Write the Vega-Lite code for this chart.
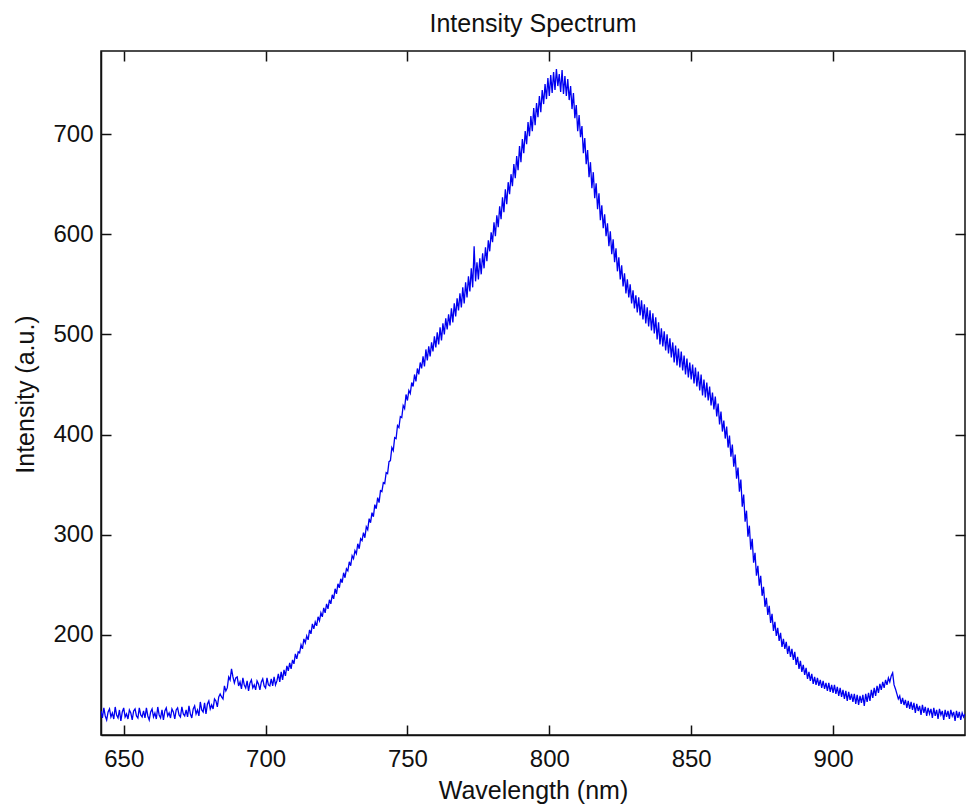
{
  "$schema": "https://vega.github.io/schema/vega-lite/v6.json",
  "width": 864,
  "height": 684,
  "autosize": {"type": "none"},
  "padding": {"left": 101, "top": 51, "right": 1, "bottom": 71},
  "background": "white",
  "title": {"text": "Intensity Spectrum", "font": "Liberation Sans", "fontSize": 25, "fontWeight": "normal", "color": "#111", "baseline": "bottom", "offset": 14, "dy": 26, "anchor": "middle"},
  "config": {
    "view": {"stroke": "#111", "strokeWidth": 1.5},
    "axis": {"labelFont": "Liberation Sans", "labelFontSize": 24, "labelColor": "#111", "titleFont": "Liberation Sans", "titleFontSize": 25, "titleFontWeight": "normal", "titleColor": "#111", "domainColor": "#111", "domainWidth": 1.5, "tickColor": "#111", "tickWidth": 1.5, "tickSize": -10, "grid": false}
  },
  "data": {"values": [
{"w":642,"i":124},{"w":642.5,"i":117},{"w":643,"i":127},{"w":643.5,"i":119},{"w":644,"i":115},{"w":644.5,"i":123},{"w":645,"i":126},{"w":645.5,"i":118},{"w":646,"i":122},{"w":646.5,"i":116},{"w":647,"i":128},{"w":647.5,"i":120},{"w":648,"i":117},{"w":648.5,"i":125},{"w":649,"i":114},{"w":649.5,"i":123},{"w":650,"i":127},{"w":650.5,"i":118},{"w":651,"i":121},{"w":651.5,"i":116},{"w":652,"i":125},{"w":652.5,"i":122},{"w":653,"i":115},{"w":653.5,"i":124},{"w":654,"i":126},{"w":654.5,"i":119},{"w":655,"i":117},{"w":655.5,"i":127},{"w":656,"i":120},{"w":656.5,"i":118},
{"w":657,"i":124},{"w":657.5,"i":117},{"w":658,"i":127},{"w":658.5,"i":119},{"w":659,"i":115},{"w":659.5,"i":123},{"w":660,"i":126},{"w":660.5,"i":118},{"w":661,"i":122},{"w":661.5,"i":116},{"w":662,"i":128},{"w":662.5,"i":120},{"w":663,"i":117},{"w":663.5,"i":125},{"w":664,"i":115},{"w":664.5,"i":124},{"w":665,"i":127},{"w":665.5,"i":119},{"w":666,"i":122},{"w":666.5,"i":117},{"w":667,"i":126},{"w":667.5,"i":123},{"w":668,"i":116},{"w":668.5,"i":125},{"w":669,"i":127},{"w":669.5,"i":120},{"w":670,"i":118},{"w":670.5,"i":128},{"w":671,"i":121},{"w":671.5,"i":119},
{"w":672,"i":125},{"w":672.5,"i":118},{"w":673,"i":129},{"w":673.5,"i":121},{"w":674,"i":117},{"w":674.5,"i":126},{"w":675,"i":129},{"w":675.5,"i":121},{"w":676,"i":125},{"w":676.5,"i":119},{"w":677,"i":133},{"w":677.5,"i":125},{"w":678,"i":123},{"w":678.5,"i":132},{"w":679,"i":121},{"w":679.5,"i":131},{"w":680,"i":134},{"w":680.5,"i":126},{"w":681,"i":130},{"w":681.5,"i":126},{"w":682,"i":136},{"w":682.5,"i":134},{"w":683,"i":128},{"w":683.5,"i":138},{"w":684,"i":141},{"w":684.5,"i":138},{"w":685,"i":136},{"w":685.5,"i":149},{"w":686,"i":144},{"w":686.5,"i":147},
{"w":687,"i":158},{"w":687.5,"i":155},{"w":688,"i":166},{"w":688.5,"i":158},{"w":689,"i":152},{"w":689.5,"i":157},{"w":690,"i":158},{"w":690.5,"i":149},{"w":691,"i":153},{"w":691.5,"i":146},{"w":692,"i":157},{"w":692.5,"i":150},{"w":693,"i":147},{"w":693.5,"i":154},{"w":694,"i":144},{"w":694.5,"i":152},{"w":695,"i":155},{"w":695.5,"i":147},{"w":696,"i":150},{"w":696.5,"i":145},{"w":697,"i":154},{"w":697.5,"i":151},{"w":698,"i":145},{"w":698.5,"i":153},{"w":699,"i":156},{"w":699.5,"i":149},{"w":700,"i":147},{"w":700.5,"i":157},{"w":701,"i":150},{"w":701.5,"i":149},
{"w":702,"i":156},{"w":702.5,"i":149},{"w":703,"i":158},{"w":703.5,"i":150},{"w":704,"i":154},{"w":704.5,"i":161},{"w":705,"i":153},{"w":705.5,"i":163},{"w":706,"i":155},{"w":706.5,"i":165},{"w":707,"i":159},{"w":707.5,"i":169},{"w":708,"i":164},{"w":708.5,"i":172},{"w":709,"i":166},{"w":709.5,"i":175},{"w":710,"i":171},{"w":710.5,"i":181},{"w":711,"i":176},{"w":711.5,"i":183},{"w":712,"i":182},{"w":712.5,"i":190},{"w":713,"i":186},{"w":713.5,"i":196},{"w":714,"i":192},{"w":714.5,"i":199},{"w":715,"i":195},{"w":715.5,"i":205},{"w":716,"i":201},{"w":716.5,"i":211},
{"w":717,"i":206},{"w":717.5,"i":213},{"w":718,"i":209},{"w":718.5,"i":218},{"w":719,"i":214},{"w":719.5,"i":222},{"w":720,"i":218},{"w":720.5,"i":227},{"w":721,"i":222},{"w":721.5,"i":231},{"w":722,"i":226},{"w":722.5,"i":235},{"w":723,"i":231},{"w":723.5,"i":240},{"w":724,"i":236},{"w":724.5,"i":246},{"w":725,"i":241},{"w":725.5,"i":251},{"w":726,"i":247},{"w":726.5,"i":256},{"w":727,"i":252},{"w":727.5,"i":262},{"w":728,"i":257},{"w":728.5,"i":266},{"w":729,"i":264},{"w":729.5,"i":273},{"w":730,"i":269},{"w":730.5,"i":279},{"w":731,"i":276},{"w":731.5,"i":284},
{"w":732,"i":281},{"w":732.5,"i":291},{"w":733,"i":286},{"w":733.5,"i":296},{"w":734,"i":294},{"w":734.5,"i":302},{"w":735,"i":297},{"w":735.5,"i":308},{"w":736,"i":305},{"w":736.5,"i":316},{"w":737,"i":312},{"w":737.5,"i":322},{"w":738,"i":318},{"w":738.5,"i":330},{"w":739,"i":326},{"w":739.5,"i":337},{"w":740,"i":332},{"w":740.5,"i":344},{"w":741,"i":343},{"w":741.5,"i":352},{"w":742,"i":351},{"w":742.5,"i":362},{"w":743,"i":361},{"w":743.5,"i":373},{"w":744,"i":374},{"w":744.5,"i":387},{"w":745,"i":384},{"w":745.5,"i":397},{"w":746,"i":396},{"w":746.5,"i":409},
{"w":747,"i":407},{"w":747.5,"i":418},{"w":748,"i":417},{"w":748.5,"i":429},{"w":749,"i":426},{"w":749.5,"i":440},{"w":750,"i":434},{"w":750.5,"i":444},{"w":751,"i":441},{"w":751.5,"i":452},{"w":752,"i":448},{"w":752.5,"i":460},{"w":753,"i":453},{"w":753.5,"i":466},{"w":754,"i":460},{"w":754.5,"i":472},{"w":755,"i":466},{"w":755.5,"i":478},{"w":756,"i":468},{"w":756.5,"i":485},{"w":757,"i":474},{"w":757.5,"i":488},{"w":758,"i":478},{"w":758.5,"i":492},{"w":759,"i":483},{"w":759.5,"i":498},{"w":760,"i":487},{"w":760.5,"i":502},{"w":761,"i":490},{"w":761.5,"i":507},
{"w":762,"i":494},{"w":762.5,"i":511},{"w":763,"i":500},{"w":763.5,"i":516},{"w":764,"i":505},{"w":764.5,"i":520},{"w":765,"i":509},{"w":765.5,"i":526},{"w":766,"i":512},{"w":766.5,"i":531},{"w":767,"i":518},{"w":767.5,"i":536},{"w":768,"i":524},{"w":768.5,"i":541},{"w":769,"i":527},{"w":769.5,"i":547},{"w":770,"i":531},{"w":770.5,"i":552},{"w":771,"i":537},{"w":771.5,"i":558},{"w":772,"i":543},{"w":772.5,"i":566},{"w":773,"i":547},{"w":773.5,"i":588},{"w":774,"i":553},{"w":774.5,"i":572},{"w":775,"i":555},{"w":775.5,"i":576},{"w":776,"i":560},{"w":776.5,"i":581},
{"w":777,"i":566},{"w":777.5,"i":587},{"w":778,"i":573},{"w":778.5,"i":594},{"w":779,"i":583},{"w":779.5,"i":602},{"w":780,"i":592},{"w":780.5,"i":612},{"w":781,"i":598},{"w":781.5,"i":619},{"w":782,"i":607},{"w":782.5,"i":628},{"w":783,"i":615},{"w":783.5,"i":637},{"w":784,"i":622},{"w":784.5,"i":645},{"w":785,"i":630},{"w":785.5,"i":652},{"w":786,"i":640},{"w":786.5,"i":660},{"w":787,"i":648},{"w":787.5,"i":670},{"w":788,"i":656},{"w":788.5,"i":678},{"w":789,"i":664},{"w":789.5,"i":688},{"w":790,"i":672},{"w":790.5,"i":695},{"w":791,"i":681},{"w":791.5,"i":703},
{"w":792,"i":690},{"w":792.5,"i":712},{"w":793,"i":698},{"w":793.5,"i":718},{"w":794,"i":703},{"w":794.5,"i":726},{"w":795,"i":709},{"w":795.5,"i":731},{"w":796,"i":717},{"w":796.5,"i":738},{"w":797,"i":722},{"w":797.5,"i":744},{"w":798,"i":730},{"w":798.5,"i":750},{"w":799,"i":735},{"w":799.5,"i":756},{"w":800,"i":738},{"w":800.5,"i":759},{"w":801,"i":741},{"w":801.5,"i":762},{"w":802,"i":744},{"w":802.5,"i":765},{"w":803,"i":748},{"w":803.5,"i":760},{"w":804,"i":742},{"w":804.5,"i":764},{"w":805,"i":740},{"w":805.5,"i":758},{"w":806,"i":738},{"w":806.5,"i":755},
{"w":807,"i":734},{"w":807.5,"i":748},{"w":808,"i":725},{"w":808.5,"i":741},{"w":809,"i":716},{"w":809.5,"i":729},{"w":810,"i":703},{"w":810.5,"i":719},{"w":811,"i":697},{"w":811.5,"i":708},{"w":812,"i":681},{"w":812.5,"i":696},{"w":813,"i":670},{"w":813.5,"i":684},{"w":814,"i":657},{"w":814.5,"i":672},{"w":815,"i":646},{"w":815.5,"i":662},{"w":816,"i":636},{"w":816.5,"i":651},{"w":817,"i":625},{"w":817.5,"i":641},{"w":818,"i":614},{"w":818.5,"i":629},{"w":819,"i":606},{"w":819.5,"i":620},{"w":820,"i":598},{"w":820.5,"i":611},{"w":821,"i":588},{"w":821.5,"i":603},
{"w":822,"i":580},{"w":822.5,"i":595},{"w":823,"i":572},{"w":823.5,"i":586},{"w":824,"i":563},{"w":824.5,"i":577},{"w":825,"i":555},{"w":825.5,"i":569},{"w":826,"i":548},{"w":826.5,"i":561},{"w":827,"i":541},{"w":827.5,"i":555},{"w":828,"i":537},{"w":828.5,"i":550},{"w":829,"i":531},{"w":829.5,"i":544},{"w":830,"i":526},{"w":830.5,"i":539},{"w":831,"i":522},{"w":831.5,"i":537},{"w":832,"i":519},{"w":832.5,"i":534},{"w":833,"i":515},{"w":833.5,"i":530},{"w":834,"i":511},{"w":834.5,"i":527},{"w":835,"i":508},{"w":835.5,"i":524},{"w":836,"i":504},{"w":836.5,"i":521},
{"w":837,"i":501},{"w":837.5,"i":517},{"w":838,"i":495},{"w":838.5,"i":512},{"w":839,"i":490},{"w":839.5,"i":506},{"w":840,"i":488},{"w":840.5,"i":503},{"w":841,"i":484},{"w":841.5,"i":500},{"w":842,"i":481},{"w":842.5,"i":496},{"w":843,"i":477},{"w":843.5,"i":492},{"w":844,"i":472},{"w":844.5,"i":489},{"w":845,"i":469},{"w":845.5,"i":486},{"w":846,"i":467},{"w":846.5,"i":483},{"w":847,"i":464},{"w":847.5,"i":479},{"w":848,"i":460},{"w":848.5,"i":476},{"w":849,"i":457},{"w":849.5,"i":472},{"w":850,"i":455},{"w":850.5,"i":470},{"w":851,"i":451},{"w":851.5,"i":467},
{"w":852,"i":448},{"w":852.5,"i":463},{"w":853,"i":444},{"w":853.5,"i":460},{"w":854,"i":439},{"w":854.5,"i":455},{"w":855,"i":437},{"w":855.5,"i":452},{"w":856,"i":434},{"w":856.5,"i":448},{"w":857,"i":429},{"w":857.5,"i":442},{"w":858,"i":425},{"w":858.5,"i":438},{"w":859,"i":418},{"w":859.5,"i":431},{"w":860,"i":410},{"w":860.5,"i":423},{"w":861,"i":403},{"w":861.5,"i":414},{"w":862,"i":396},{"w":862.5,"i":408},{"w":863,"i":387},{"w":863.5,"i":399},{"w":864,"i":378},{"w":864.5,"i":390},{"w":865,"i":368},{"w":865.5,"i":380},{"w":866,"i":356},{"w":866.5,"i":367},
{"w":867,"i":343},{"w":867.5,"i":355},{"w":868,"i":328},{"w":868.5,"i":340},{"w":869,"i":313},{"w":869.5,"i":324},{"w":870,"i":298},{"w":870.5,"i":309},{"w":871,"i":285},{"w":871.5,"i":296},{"w":872,"i":272},{"w":872.5,"i":282},{"w":873,"i":259},{"w":873.5,"i":269},{"w":874,"i":249},{"w":874.5,"i":259},{"w":875,"i":239},{"w":875.5,"i":248},{"w":876,"i":228},{"w":876.5,"i":237},{"w":877,"i":220},{"w":877.5,"i":229},{"w":878,"i":212},{"w":878.5,"i":221},{"w":879,"i":204},{"w":879.5,"i":213},{"w":880,"i":199},{"w":880.5,"i":207},{"w":881,"i":194},{"w":881.5,"i":202},
{"w":882,"i":188},{"w":882.5,"i":196},{"w":883,"i":186},{"w":883.5,"i":193},{"w":884,"i":181},{"w":884.5,"i":189},{"w":885,"i":178},{"w":885.5,"i":186},{"w":886,"i":175},{"w":886.5,"i":183},{"w":887,"i":170},{"w":887.5,"i":178},{"w":888,"i":166},{"w":888.5,"i":174},{"w":889,"i":163},{"w":889.5,"i":170},{"w":890,"i":160},{"w":890.5,"i":167},{"w":891,"i":156},{"w":891.5,"i":163},{"w":892,"i":154},{"w":892.5,"i":161},{"w":893,"i":151},{"w":893.5,"i":158},{"w":894,"i":150},{"w":894.5,"i":157},{"w":895,"i":149},{"w":895.5,"i":155},{"w":896,"i":147},{"w":896.5,"i":154},
{"w":897,"i":146},{"w":897.5,"i":152},{"w":898,"i":144},{"w":898.5,"i":152},{"w":899,"i":143},{"w":899.5,"i":150},{"w":900,"i":142},{"w":900.5,"i":150},{"w":901,"i":141},{"w":901.5,"i":148},{"w":902,"i":139},{"w":902.5,"i":147},{"w":903,"i":138},{"w":903.5,"i":145},{"w":904,"i":136},{"w":904.5,"i":144},{"w":905,"i":134},{"w":905.5,"i":143},{"w":906,"i":135},{"w":906.5,"i":141},{"w":907,"i":133},{"w":907.5,"i":141},{"w":908,"i":131},{"w":908.5,"i":140},{"w":909,"i":130},{"w":909.5,"i":139},{"w":910,"i":132},{"w":910.5,"i":140},{"w":911,"i":129},{"w":911.5,"i":141},
{"w":912,"i":133},{"w":912.5,"i":142},{"w":913,"i":134},{"w":913.5,"i":145},{"w":914,"i":137},{"w":914.5,"i":147},{"w":915,"i":139},{"w":915.5,"i":149},{"w":916,"i":142},{"w":916.5,"i":151},{"w":917,"i":145},{"w":917.5,"i":153},{"w":918,"i":147},{"w":918.5,"i":155},{"w":919,"i":150},{"w":919.5,"i":157},{"w":920,"i":153},{"w":920.5,"i":159},{"w":921,"i":162},{"w":921.5,"i":150},{"w":922,"i":146},{"w":922.5,"i":141},{"w":923,"i":136},{"w":923.5,"i":139},{"w":924,"i":131},{"w":924.5,"i":137},{"w":925,"i":130},{"w":925.5,"i":135},{"w":926,"i":127},{"w":926.5,"i":134},
{"w":927,"i":126},{"w":927.5,"i":133},{"w":928,"i":125},{"w":928.5,"i":132},{"w":929,"i":122},{"w":929.5,"i":131},{"w":930,"i":124},{"w":930.5,"i":129},{"w":931,"i":120},{"w":931.5,"i":130},{"w":932,"i":122},{"w":932.5,"i":128},{"w":933,"i":119},{"w":933.5,"i":127},{"w":934,"i":121},{"w":934.5,"i":126},{"w":935,"i":117},{"w":935.5,"i":127},{"w":936,"i":119},{"w":936.5,"i":125},{"w":937,"i":116},{"w":937.5,"i":126},{"w":938,"i":120},{"w":938.5,"i":124},{"w":939,"i":115},{"w":939.5,"i":125},{"w":940,"i":118},{"w":940.5,"i":124},{"w":941,"i":116},{"w":941.5,"i":125},
{"w":942,"i":119},{"w":942.5,"i":123},{"w":943,"i":114},{"w":943.5,"i":124},{"w":944,"i":117},{"w":944.5,"i":123},{"w":945,"i":115},{"w":945.5,"i":122},{"w":946,"i":118},{"w":946.5,"i":121}
  ]},
  "layer": [
    {
      "mark": {"type": "line", "color": "#0000f0", "strokeWidth": 1.3, "clip": true},
      "encoding": {
        "x": {"field": "w", "type": "quantitative", "scale": {"domain": [642, 946.5], "nice": false, "zero": false},
              "axis": {"orient": "bottom", "values": [650, 700, 750, 800, 850, 900], "title": "Wavelength (nm)", "labelPadding": 22, "labelBaseline": "top", "titleY": 63, "titleBaseline": "alphabetic"}},
        "y": {"field": "i", "type": "quantitative", "scale": {"domain": [100, 783], "nice": false, "zero": false},
              "axis": {"orient": "left", "values": [200, 300, 400, 500, 600, 700], "title": "Intensity (a.u.)", "labelPadding": 18, "titleX": -68, "titleY": 343, "titleAngle": -90, "titleBaseline": "alphabetic", "titleAlign": "center"}}
      }
    },
    {
      "mark": {"type": "point", "opacity": 0},
      "encoding": {
        "x": {"field": "w", "type": "quantitative", "axis": {"orient": "top", "values": [650, 700, 750, 800, 850, 900], "labels": false, "title": null, "domain": false}},
        "y": {"field": "i", "type": "quantitative", "axis": {"orient": "right", "values": [200, 300, 400, 500, 600, 700], "labels": false, "title": null, "domain": false}}
      }
    }
  ],
  "resolve": {"axis": {"x": "independent", "y": "independent"}}
}
